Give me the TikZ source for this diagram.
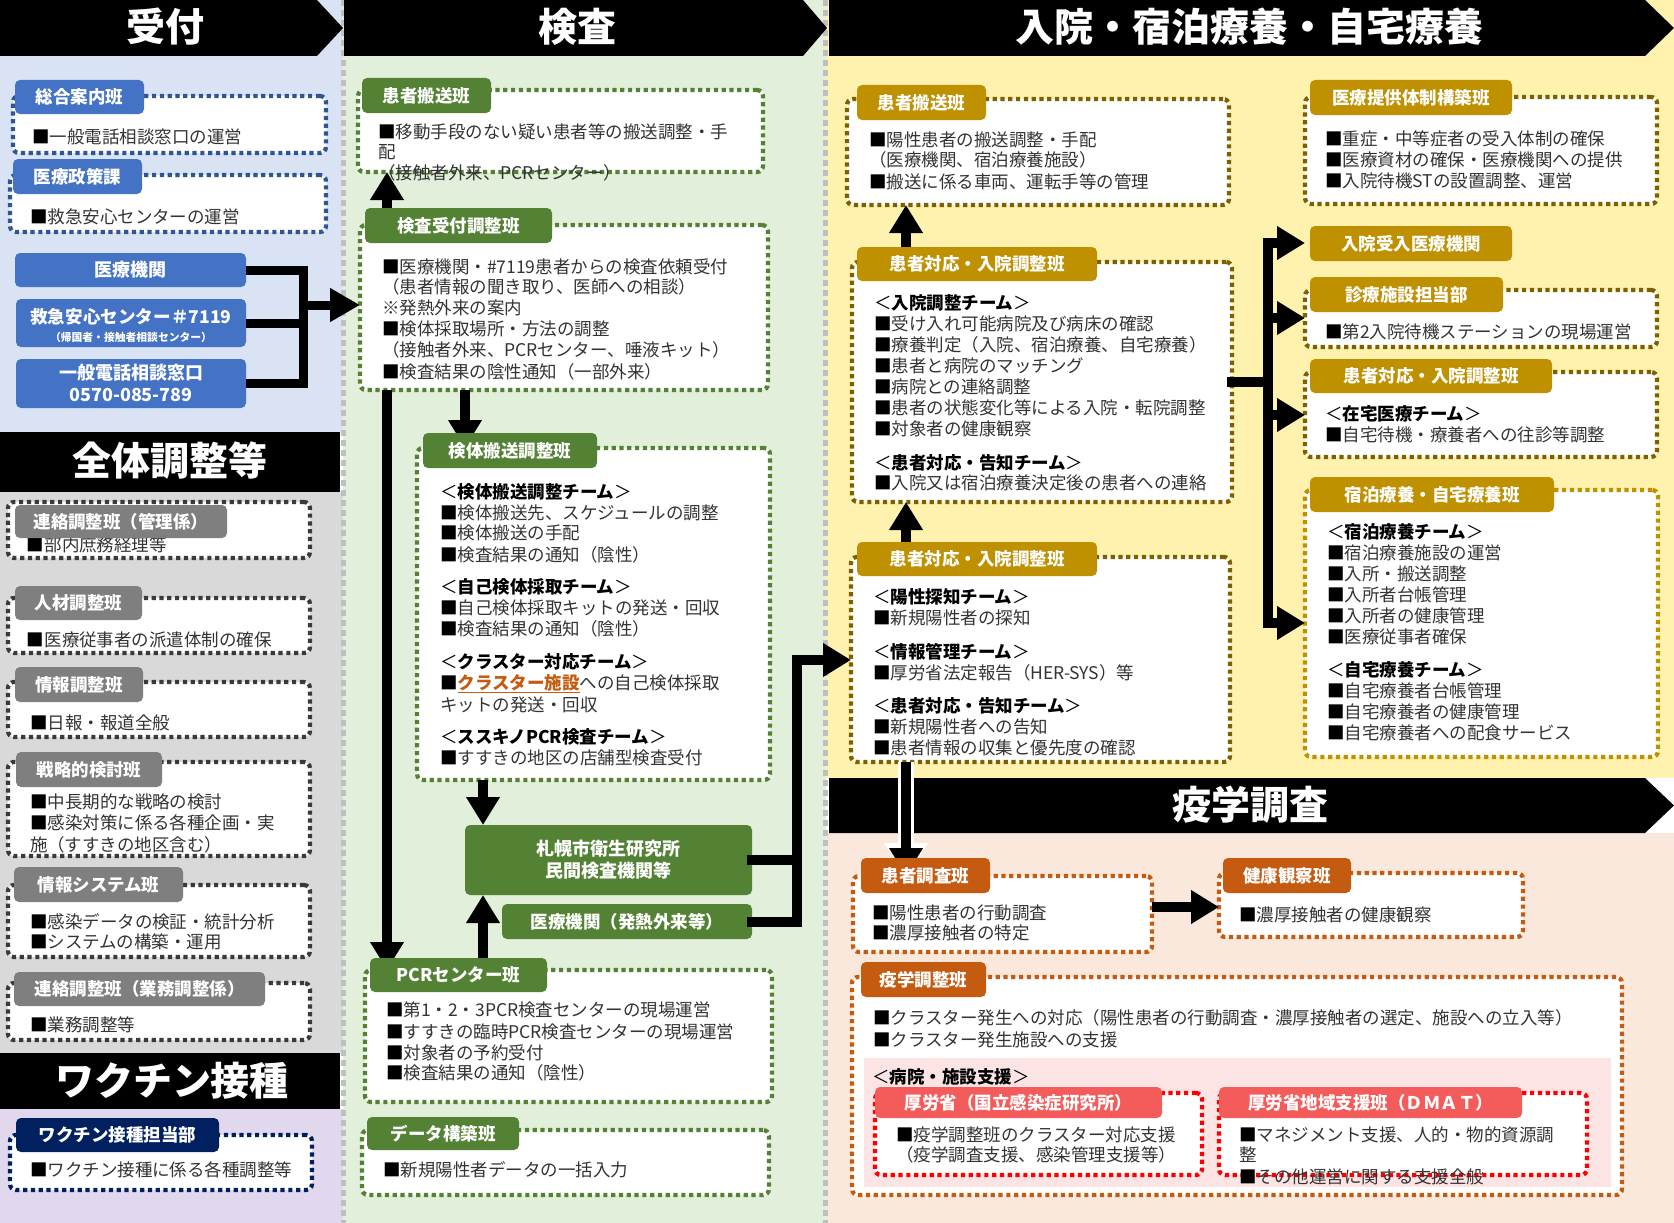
\documentclass[tikz,border=0pt]{standalone}
\usepackage{fontspec}
\setmainfont{Noto Sans CJK JP}
\usetikzlibrary{arrows.meta}
\definecolor{bgBlue}{HTML}{DAE3F3}
\definecolor{bgGray}{HTML}{D9D9D9}
\definecolor{bgLav}{HTML}{E2D8EE}
\definecolor{bgGreen}{HTML}{E2EFDA}
\definecolor{bgYellow}{HTML}{FFF2AE}
\definecolor{bgPeach}{HTML}{FBE8DC}
\definecolor{bgPink}{HTML}{FCE4E4}
\definecolor{cBlue}{HTML}{4472C4}
\definecolor{dBlue}{HTML}{2F5597}
\definecolor{cGray}{HTML}{7F7F7F}
\definecolor{dGray}{HTML}{3A3A3A}
\definecolor{cGreen}{HTML}{548235}
\definecolor{cGold}{HTML}{BF9000}
\definecolor{dBrown}{HTML}{7F6000}
\definecolor{cNavy}{HTML}{002060}
\definecolor{cOrange}{HTML}{C55A11}
\definecolor{cRed}{HTML}{F45B5B}
\definecolor{dRed}{HTML}{FF0000}
\definecolor{sepGray}{HTML}{BFBFBF}
\definecolor{tcol}{HTML}{333333}
\newcommand\sq{{\color{black}■}}
\newcommand\team[1]{{\color{black}＜\textbf{#1}＞}}
\begin{document}
\begin{tikzpicture}[x=1pt,y=-1pt,
  sz/.style 2 args={minimum width=#1pt,minimum height=#2pt},
  dbox/.style={draw=#1,line width=4.2pt,dash pattern=on 4.2pt off 3.6pt,rounded corners=6pt,fill=white,inner sep=0pt,outer sep=0pt},
  lab/.style={fill=#1,rounded corners=5pt,inner sep=0pt,outer sep=0pt,text=white,font=\bfseries\fontsize{17.5pt}{21pt}\selectfont,text height=15.4pt,text depth=2.1pt},
  txt/.style={anchor=west,inner sep=0pt,outer sep=0pt,text=tcol,font=\fontsize{17.5pt}{21pt}\selectfont,text height=15.3pt,text depth=2.1pt},
  txe/.style={txt,font=\fontsize{17.5pt}{21pt}\selectfont},
  wtxt/.style={inner sep=0pt,outer sep=0pt,text=white,font=\bfseries\fontsize{18pt}{21pt}\selectfont,text height=15.8pt,text depth=2.2pt},
  wsmall/.style={inner sep=0pt,outer sep=0pt,text=white,font=\bfseries\fontsize{10.8pt}{12pt}\selectfont,text height=9.5pt,text depth=1.3pt},
  htxt/.style={inner sep=0pt,outer sep=0pt,text=white,font=\bfseries\fontsize{39pt}{40pt}\selectfont,text height=34.3pt,text depth=4.7pt},
  sepl/.style={draw=sepGray,line width=5pt,dash pattern=on 6pt off 4pt},
  ln/.style={line width=10pt,line cap=rect},
  arr/.style={line width=10pt,-{Triangle[length=28pt,width=32pt]}},
  arrw/.style={line width=16pt,white,-{Triangle[length=33pt,width=42pt]}},
]
\useasboundingbox (0,0) rectangle (1674,1223);
% backgrounds
\fill[bgBlue] (0,0) rectangle (343,432);
\fill[bgGray] (0,492) rectangle (343,1053);
\fill[bgLav] (0,1109) rectangle (343,1223);
\fill[bgGreen] (343,0) rectangle (826,1223);
\fill[bgYellow] (826,0) rectangle (1674,778);
\fill[bgPeach] (826,833) rectangle (1674,1223);
\draw[sepl] (343,0) -- (343,1223);
\draw[sepl] (825.5,0) -- (825.5,1223);
% header bands
\fill[black] (0,0) -- (317,0) -- (343,28) -- (317,56) -- (0,56) -- cycle;
\fill[black] (344,0) -- (803,0) -- (827,28) -- (803,56) -- (344,56) -- cycle;
\fill[black] (829,0) -- (1645,0) -- (1674,28) -- (1645,56) -- (829,56) -- cycle;
\fill[black] (0,432) rectangle (340,492);
\fill[black] (0,1053) rectangle (340,1109);
\fill[black] (829,778) -- (1645,778) -- (1674,805.5) -- (1645,833) -- (829,833) -- cycle;
\node[htxt] (hUke) at (165,27) {受付};
\node[htxt] (hKen) at (577,27) {検査};
\node[htxt] (hNyu) at (1249,27) {入院・宿泊療養・自宅療養};
\node[htxt] (hZen) at (170,461) {全体調整等};
\node[htxt] (hVac) at (172,1081) {ワクチン接種};
\node[htxt] (hEki) at (1250,805) {疫学調査};
% dotted boxes
\node[dbox=dBlue,sz={313}{57}] (bSogo) at (169.5,124.5) {};
\node[dbox=dBlue,sz={316}{57}] (bSeisaku) at (168,203.5) {};
\node[dbox=dGray,sz={302}{56}] (bRen1) at (159,530) {};
\node[dbox=dGray,sz={302}{55}] (bJin) at (159,625.5) {};
\node[dbox=dGray,sz={302}{55}] (bJoho) at (159,709.5) {};
\node[dbox=dGray,sz={302}{94}] (bSen) at (159,809) {};
\node[dbox=dGray,sz={302}{72}] (bSys) at (159,921) {};
\node[dbox=dGray,sz={302}{57}] (bRen2) at (159,1011.5) {};
\node[dbox=cNavy,sz={302}{55}] (bVac) at (161,1162.5) {};
\node[dbox=cGreen,sz={405}{82}] (bMH) at (560.5,131) {};
\node[dbox=cGreen,sz={408}{165}] (bUke) at (564,307.5) {};
\node[dbox=cGreen,sz={353}{332}] (bKen) at (593.5,614) {};
\node[dbox=cGreen,sz={407}{132}] (bPcr) at (568.5,1036) {};
\node[dbox=cGreen,sz={407}{65}] (bData) at (565.5,1162.5) {};
\node[dbox=dBrown,sz={382}{106}] (bRH) at (1038,152) {};
\node[dbox=dBrown,sz={380}{240}] (bR1) at (1042,382) {};
\node[dbox=dBrown,sz={379}{205}] (bR2) at (1040.5,659.5) {};
\node[dbox=dBrown,sz={352}{107}] (bTei) at (1481,150.5) {};
\node[dbox=dBrown,sz={352}{57}] (bShin) at (1481,318.5) {};
\node[dbox=dBrown,sz={352}{85}] (bZai) at (1481,414.5) {};
\node[dbox=cGold,sz={353}{267}] (bShuku) at (1481.5,623.5) {};
\node[dbox=cOrange,sz={299}{76}] (bChosa) at (1002.5,914) {};
\node[dbox=cOrange,sz={304}{64}] (bKenko) at (1371,905) {};
\node[dbox=cOrange,sz={770}{218}] (bEpi) at (1237,1086) {};
\fill[bgPink] (864,1058) rectangle (1611,1187);
\node[dbox=dRed,sz={327}{82}] (bNiid) at (1038.5,1134) {};
\node[dbox=dRed,sz={368}{82}] (bDmat) at (1403,1134) {};
% texts left
\node[txt] (tSogo) at (32,137) {\sq 一般電話相談窓口の運営};
\node[txt] (tSeisaku) at (30,217) {\sq 救急安心センターの運営};
\node[txt] (tRen1) at (27,545) {\sq 部内庶務経理等};
\node[txt] (tJin) at (27,640) {\sq 医療従事者の派遣体制の確保};
\node[txt] (tJoho) at (30,723) {\sq 日報・報道全般};
\node[txt] (tSen1) at (30,802) {\sq 中長期的な戦略の検討};
\node[txt] (tSen2) at (30,823) {\sq 感染対策に係る各種企画・実};
\node[txt] (tSen3) at (30,845) {施（すすきの地区含む）};
\node[txt] (tSys1) at (30,922) {\sq 感染データの検証・統計分析};
\node[txt] (tSys2) at (30,942) {\sq システムの構築・運用};
\node[txt] (tRen2) at (30,1025) {\sq 業務調整等};
\node[txt] (tVac) at (30,1170) {\sq ワクチン接種に係る各種調整等};
% texts middle
\node[txt] (tMH1) at (378,132) {\sq 移動手段のない疑い患者等の搬送調整・手};
\node[txt] (tMH2) at (378,152) {配};
\node[txt] (tMH3) at (378,173) {（接触者外来、PCRセンター）};
\node[txt] (tUke1) at (382,267) {\sq 医療機関・\#7119患者からの検査依頼受付};
\node[txt] (tUke2) at (382,287) {（患者情報の聞き取り、医師への相談）};
\node[txt] (tUke3) at (382,308) {※発熱外来の案内};
\node[txt] (tUke4) at (382,329) {\sq 検体採取場所・方法の調整};
\node[txt] (tUke5) at (382,350) {（接触者外来、PCRセンター、唾液キット）};
\node[txt] (tUke6) at (382,372) {\sq 検査結果の陰性通知（一部外来）};
\node[txt] (tKen1) at (440,492) {\team{検体搬送調整チーム}};
\node[txt] (tKen2) at (440,513) {\sq 検体搬送先、スケジュールの調整};
\node[txt] (tKen3) at (440,533) {\sq 検体搬送の手配};
\node[txt] (tKen4) at (440,555) {\sq 検査結果の通知（陰性）};
\node[txt] (tKen5) at (440,587) {\team{自己検体採取チーム}};
\node[txt] (tKen6) at (440,608) {\sq 自己検体採取キットの発送・回収};
\node[txt] (tKen7) at (440,629) {\sq 検査結果の通知（陰性）};
\node[txt] (tKen8) at (440,662) {\team{クラスター対応チーム}};
\node[txt] (tKen9) at (440,683) {\sq{\color{cOrange}\bfseries\underline{クラスター施設}}への自己検体採取};
\node[txt] (tKen10) at (440,705) {キットの発送・回収};
\node[txt] (tKen11) at (440,737) {\team{ススキノPCR検査チーム}};
\node[txt] (tKen12) at (440,758) {\sq すすきの地区の店舗型検査受付};
\node[txt] (tPcr1) at (386,1010) {\sq 第1・2・3PCR検査センターの現場運営};
\node[txt] (tPcr2) at (386,1032) {\sq すすきの臨時PCR検査センターの現場運営};
\node[txt] (tPcr3) at (386,1053) {\sq 対象者の予約受付};
\node[txt] (tPcr4) at (386,1073) {\sq 検査結果の通知（陰性）};
\node[txt] (tData) at (383,1170) {\sq 新規陽性者データの一括入力};
% texts right
\node[txt] (tRH1) at (869,140) {\sq 陽性患者の搬送調整・手配};
\node[txt] (tRH2) at (869,160) {（医療機関、宿泊療養施設）};
\node[txt] (tRH3) at (869,182) {\sq 搬送に係る車両、運転手等の管理};
\node[txt] (tR1a) at (874,303) {\team{入院調整チーム}};
\node[txt] (tR1b) at (874,324) {\sq 受け入れ可能病院及び病床の確認};
\node[txt] (tR1c) at (874,345) {\sq 療養判定（入院、宿泊療養、自宅療養）};
\node[txt] (tR1d) at (874,366) {\sq 患者と病院のマッチング};
\node[txt] (tR1e) at (874,387) {\sq 病院との連絡調整};
\node[txt] (tR1f) at (874,408) {\sq 患者の状態変化等による入院・転院調整};
\node[txt] (tR1g) at (874,429) {\sq 対象者の健康観察};
\node[txt] (tR1h) at (874,463) {\team{患者対応・告知チーム}};
\node[txt] (tR1i) at (874,483) {\sq 入院又は宿泊療養決定後の患者への連絡};
\node[txt] (tR2a) at (873,597) {\team{陽性探知チーム}};
\node[txt] (tR2b) at (873,618) {\sq 新規陽性者の探知};
\node[txt] (tR2c) at (873,652) {\team{情報管理チーム}};
\node[txt] (tR2d) at (873,673) {\sq 厚労省法定報告（HER-SYS）等};
\node[txt] (tR2e) at (873,706) {\team{患者対応・告知チーム}};
\node[txt] (tR2f) at (873,727) {\sq 新規陽性者への告知};
\node[txt] (tR2g) at (873,748) {\sq 患者情報の収集と優先度の確認};
\node[txt] (tTei1) at (1325,139) {\sq 重症・中等症者の受入体制の確保};
\node[txt] (tTei2) at (1325,160) {\sq 医療資材の確保・医療機関への提供};
\node[txt] (tTei3) at (1325,181) {\sq 入院待機STの設置調整、運営};
\node[txt] (tShin) at (1325,332) {\sq 第2入院待機ステーションの現場運営};
\node[txt] (tZai1) at (1325,414) {\team{在宅医療チーム}};
\node[txt] (tZai2) at (1325,435) {\sq 自宅待機・療養者への往診等調整};
\node[txt] (tSh1) at (1327,532) {\team{宿泊療養チーム}};
\node[txt] (tSh2) at (1327,553) {\sq 宿泊療養施設の運営};
\node[txt] (tSh3) at (1327,574) {\sq 入所・搬送調整};
\node[txt] (tSh4) at (1327,595) {\sq 入所者台帳管理};
\node[txt] (tSh5) at (1327,616) {\sq 入所者の健康管理};
\node[txt] (tSh6) at (1327,637) {\sq 医療従事者確保};
\node[txt] (tSh7) at (1327,670) {\team{自宅療養チーム}};
\node[txt] (tSh8) at (1327,691) {\sq 自宅療養者台帳管理};
\node[txt] (tSh9) at (1327,712) {\sq 自宅療養者の健康管理};
\node[txt] (tSh10) at (1327,733) {\sq 自宅療養者への配食サービス};
% texts epi
\node[txe] (tCh1) at (872,913) {\sq 陽性患者の行動調査};
\node[txe] (tCh2) at (872,933) {\sq 濃厚接触者の特定};
\node[txe] (tKenko) at (1239,915) {\sq 濃厚接触者の健康観察};
\node[txe] (tEpi1) at (873,1018) {\sq クラスター発生への対応（陽性患者の行動調査・濃厚接触者の選定、施設への立入等）};
\node[txe] (tEpi2) at (873,1040) {\sq クラスター発生施設への支援};
\node[txe] (tShien) at (872,1077) {\team{病院・施設支援}};
\node[txe] (tNi1) at (896,1135) {\sq 疫学調整班のクラスター対応支援};
\node[txe] (tNi2) at (896,1155) {（疫学調査支援、感染管理支援等）};
\node[txe] (tDm1) at (1239,1135) {\sq マネジメント支援、人的・物的資源調};
\node[txe] (tDm2) at (1239,1155) {整};
\node[txe] (tDm3) at (1239,1177) {\sq その他運営に関する支援全般};
% left blue boxes and green boxes
\node[lab=cBlue,sz={231}{34},font=\bfseries\fontsize{18pt}{21pt}\selectfont] (kIryo) at (130.5,270) {医療機関};
\node[lab=cBlue,sz={230}{48}] (k7119) at (131,323) {};
\node[wtxt,font=\bfseries\fontsize{17.6pt}{21pt}\selectfont] (k7119a) at (131,317) {救急安心センター＃7119};
\node[wsmall] (k7119b) at (131,337.5) {（帰国者・接触者相談センター）};
\node[lab=cBlue,sz={230}{49}] (kIppan) at (131,383.5) {};
\node[wtxt] (kIppanA) at (131,373) {一般電話相談窓口};
\node[wtxt] (kIppanB) at (131,395) {0570-085-789};
\node[lab=cGreen,sz={287}{70}] (kSap) at (608.5,860) {};
\node[wtxt] (kSapA) at (608.5,849) {札幌市衛生研究所};
\node[wtxt] (kSapB) at (608.5,871) {民間検査機関等};
% coordinates
\coordinate (jL) at (303,305);
\coordinate (cxA) at (387,0);
\coordinate (cxB) at (465,0);
\coordinate (cxC) at (483,0);
\coordinate (cxR) at (906,0);
\coordinate (jM) at (797,660);
\coordinate (rbT) at (1268,243);
\coordinate (rb2) at (1268,318);
\coordinate (rb3) at (1268,415);
\coordinate (rbB) at (1268,623);
\coordinate (ey) at (0,907);
% connectors
\draw[line width=9pt] (kIryo.east) -| (jL);
\draw[line width=9pt] (k7119.east) -| (jL);
\draw[line width=9pt] (kIppan.east) -| (jL);
\draw[line width=9pt,-{Triangle[length=30pt,width=32pt]}] (jL) -- (bUke.west |- jL);
\draw[arr] (bUke.south -| cxB) -- (bKen.north -| cxB);
\draw[arr] (bUke.south -| cxA) -- (bPcr.north -| cxA);
\draw[arr] (bKen.south -| cxC) -- (kSap.north -| cxC);
\draw[ln] (kSap.east) -- (kSap.east -| jM);
\draw[arr] (jM) -- (bR2.west |- jM);
\draw[ln] (rbT) -- (rbB);
\draw[ln] (bR1.east) -- (bR1.east -| rbT);
\draw[arr] (rbT) -- (bTei.west |- rbT);
\draw[arr] (rb2) -- (bShin.west |- rb2);
\draw[arr] (rb3) -- (bZai.west |- rb3);
\draw[arr] (rbB) -- (bShuku.west |- rbB);
\draw[arrw] (bR2.south -| cxR) -- (bChosa.north -| cxR);
\draw[arr] (bR2.south -| cxR) -- (bChosa.north -| cxR);
\draw[arr] (bChosa.east |- ey) -- (bKenko.west |- ey);
% labels
\node[lab=cBlue,sz={129}{34}] (lSogo) at (79.5,97) {総合案内班};
\node[lab=cBlue,sz={129}{35}] (lSeisaku) at (77.5,176.5) {医療政策課};
\node[lab=cGray,sz={212}{33}] (lRen1) at (121,521.5) {連絡調整班（管理係）};
\node[lab=cGray,sz={127}{34}] (lJin) at (78.5,603) {人材調整班};
\node[lab=cGray,sz={128}{35}] (lJoho) at (79,684.5) {情報調整班};
\node[lab=cGray,sz={146}{35}] (lSen) at (89,769.5) {戦略的検討班};
\node[lab=cGray,sz={169}{35}] (lSys) at (98.5,884.5) {情報システム班};
\node[lab=cGray,sz={251}{34}] (lRen2) at (139.5,989) {連絡調整班（業務調整係）};
\node[lab=cNavy,sz={203}{34}] (lVac) at (117.5,1135) {ワクチン接種担当部};
\node[lab=cGreen,sz={129}{35}] (lMH) at (426.5,95.5) {患者搬送班};
\node[lab=cGreen,sz={187}{35}] (lUke) at (458.5,225.5) {検査受付調整班};
\node[lab=cGreen,sz={174}{35}] (lKen) at (510,450.5) {検体搬送調整班};
\node[lab=cGreen,sz={250}{35}] (kHat) at (627,921.5) {医療機関（発熱外来等）};
\node[lab=cGreen,sz={177}{34}] (lPcr) at (458.5,975) {PCRセンター班};
\node[lab=cGreen,sz={152}{33}] (lData) at (443,1133.5) {データ構築班};
\node[lab=cGold,sz={129}{35}] (lRH) at (921.5,102.5) {患者搬送班};
\node[lab=cGold,sz={240}{34}] (lR1) at (977,264) {患者対応・入院調整班};
\node[lab=cGold,sz={240}{34}] (lR2) at (977,559) {患者対応・入院調整班};
\node[lab=cGold,sz={202}{35}] (lTei) at (1411,97.5) {医療提供体制構築班};
\node[lab=cGold,sz={202}{35}] (lNyu) at (1411,243.5) {入院受入医療機関};
\node[lab=cGold,sz={193}{35}] (lShin) at (1406.5,294.5) {診療施設担当部};
\node[lab=cGold,sz={242}{34}] (lZai) at (1431,376) {患者対応・入院調整班};
\node[lab=cGold,sz={244}{35}] (lShuku) at (1432,494.5) {宿泊療養・自宅療養班};
\node[lab=cOrange,sz={129}{35}] (lChosa) at (925.5,875.5) {患者調査班};
\node[lab=cOrange,sz={128}{35}] (lKenko) at (1287,875.5) {健康観察班};
\node[lab=cOrange,sz={125}{35}] (lEpi) at (923.5,979.5) {疫学調整班};
\node[lab=cRed,sz={287}{31}] (lNiid) at (1018.5,1102.5) {厚労省（国立感染症研究所）};
\node[lab=cRed,sz={303}{31}] (lDmat) at (1370.5,1102.5) {厚労省地域支援班（ＤＭＡＴ）};
% connectors that start at labels
\draw[arr] (lUke.north -| cxA) -- (bMH.south -| cxA);
\draw[arr] (lPcr.north -| cxC) -- (kSap.south -| cxC);
\draw[ln] (kHat.east) -| (jM);
\draw[arr] (lR1.north -| cxR) -- (bRH.south -| cxR);
\draw[arr] (lR2.north -| cxR) -- (bR1.south -| cxR);
\end{tikzpicture}
\end{document}
